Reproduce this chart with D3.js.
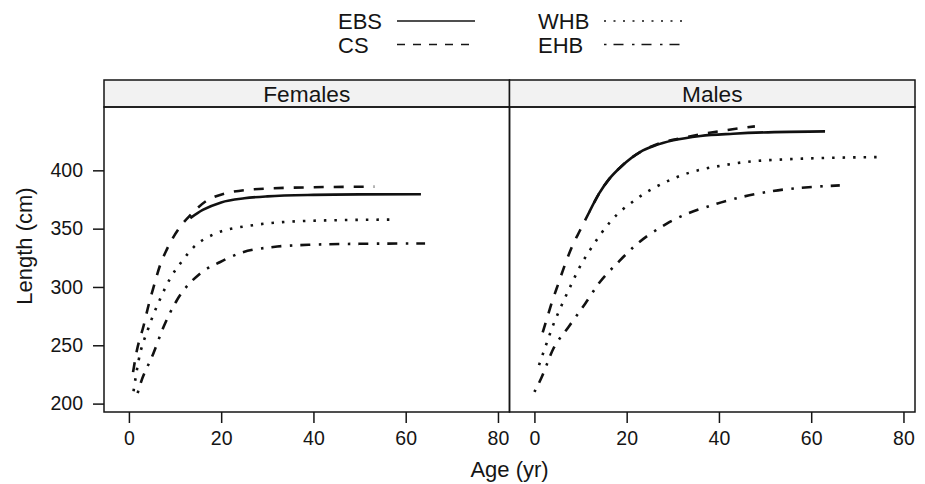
<!DOCTYPE html>
<html>
<head>
<meta charset="utf-8">
<script src="https://cdn.jsdelivr.net/npm/d3@7"></script>
<style>
    body { margin: 0; background: #fff; }
    text { font-family: "Liberation Sans", Arial, Helvetica, sans-serif; fill: #151515; }
</style>
</head>
<body>
<div id="scene"></div>
<script>
// stocks, sexes and ticks
const stocks = ['EBS', 'CS', 'WHB', 'EHB'];
const sexes = ['Females', 'Males'];
const xTicks = [0, 20, 40, 60, 80];
const yTicks = [200, 250, 300, 350, 400];

// females (age in yr, length in cm)
const femaleEbsAge = [13.3, 16, 20, 25, 30, 40, 50, 63.3];
const femaleEbsLength = [359, 366, 372.5, 376, 377.7, 379, 379.4, 379.5];
const femaleCsAge = [0.9, 1.7, 3.2, 4.3, 5.5, 6.7, 8.2, 11.1, 13.3, 18.3, 27, 40, 53.2];
const femaleCsLength = [227, 245, 267, 285, 302, 318, 332, 351.5, 361.5, 377, 383.7, 385.5, 386];
const femaleWhbAge = [1.0, 2.1, 4.25, 6.8, 8.9, 11.5, 14, 18.3, 27, 40, 57.5];
const femaleWhbLength = [210.6, 237, 265, 290, 307, 322, 334, 345, 353, 356.8, 357.8];
const femaleEhbAge = [1.9, 2.4, 5.3, 7.5, 10.4, 15.4, 19.8, 24.1, 31.3, 40, 50, 64.2];
const femaleEhbLength = [209, 215.7, 243, 265.7, 288.6, 311.4, 321.4, 329, 334.3, 336.3, 337, 337.3];

// males
const maleEbsAge = [11.9, 14, 16.4, 19, 22.9, 26, 30.1, 36, 43.1, 52, 63];
const maleEbsLength = [364.3, 380, 393.5, 404, 415.7, 421, 425.7, 429.5, 431.4, 432.8, 433.4];
const maleCsAge = [1.8, 2.8, 3.8, 5.2, 6.7, 8.2, 9.9, 11.9, 14, 16.4, 19, 22.9, 27, 33, 40, 47.8];
const maleCsLength = [261, 274, 287, 303, 320, 335, 348.6, 364.3, 380, 393.5, 404, 415.7, 423, 428.5, 433.5, 437.7];
const maleWhbAge = [1.0, 2.5, 4.1, 5.9, 7.9, 9.9, 12.1, 16.4, 22.2, 30.1, 43.1, 55, 75.6];
const maleWhbLength = [233, 250, 267.7, 284.3, 301.4, 317.7, 332, 355.7, 375.7, 392.9, 405.7, 409.5, 411.4];
const maleEhbAge = [0, 1.45, 4.1, 7.4, 11, 14.2, 18.2, 21.5, 28.7, 39.5, 50.4, 66.2];
const maleEhbLength = [210, 221.5, 247, 265.7, 285.7, 304.3, 321.4, 334.3, 354.3, 371.4, 381.4, 387.1];

const seriesBySex = {
    'Females': [
        { stock: 'EBS', age: femaleEbsAge, length: femaleEbsLength },
        { stock: 'CS', age: femaleCsAge, length: femaleCsLength },
        { stock: 'WHB', age: femaleWhbAge, length: femaleWhbLength },
        { stock: 'EHB', age: femaleEhbAge, length: femaleEhbLength },
    ],
    'Males': [
        { stock: 'EBS', age: maleEbsAge, length: maleEbsLength },
        { stock: 'CS', age: maleCsAge, length: maleCsLength },
        { stock: 'WHB', age: maleWhbAge, length: maleWhbLength },
        { stock: 'EHB', age: maleEhbAge, length: maleEhbLength },
    ],
};

const dashes = { 'EBS': null, 'CS': '10,10', 'WHB': '2.5,8', 'EHB': '2.5,8,10,8.5' };
const legendDashes = { 'EBS': null, 'CS': '8,8', 'WHB': '2,7.5', 'EHB': '2.5,7,10,8.5' };

const width = 925;
const height = 484;
const panelTop = 107;
const panelBottom = 412;
const panelLeft = 104;
const panelWidth = 405.5;
const stripTop = 80;
const ink = '#151515';

const svg = d3.select('#scene')
    .append('svg')
    .attr('width', width)
    .attr('height', height);

const yScale = d3.scaleLinear().domain([192.8, 454.3]).range([panelBottom, panelTop]);

// legend
const legendCols = [338, 538];
const legendRows = [21, 44.5];
stocks.forEach((stock, i) => {
    const col = Math.floor(i / 2);
    const row = i % 2;
    const tx = legendCols[col];
    const ty = legendRows[row];
    const lx1 = col === 0 ? 397 : 604;
    svg.append('text')
        .attr('x', tx)
        .attr('y', ty + 8)
        .style('font-size', '22px')
        .text(stock);
    svg.append('line')
        .attr('x1', lx1)
        .attr('x2', lx1 + 78)
        .attr('y1', ty)
        .attr('y2', ty)
        .attr('stroke', ink)
        .attr('stroke-width', 1.7)
        .attr('stroke-dasharray', legendDashes[stock]);
});

const line = d3.line()
    .x((d) => d.x)
    .y((d) => d.y)
    .curve(d3.curveMonotoneX);

sexes.forEach((sex, p) => {
    const x0 = panelLeft + p * panelWidth;
    const xScale = d3.scaleLinear().domain([-5.4, 82.5]).range([x0, x0 + panelWidth]);

    // strip
    svg.append('rect')
        .attr('x', x0)
        .attr('y', stripTop)
        .attr('width', panelWidth)
        .attr('height', panelTop - stripTop)
        .attr('fill', '#f2f2f2')
        .attr('stroke', ink)
        .attr('stroke-width', 1.5);
    svg.append('text')
        .attr('x', x0 + panelWidth / 2)
        .attr('y', panelTop - 5.5)
        .attr('text-anchor', 'middle')
        .style('font-size', '22.7px')
        .text(sex);

    // curves
    seriesBySex[sex].forEach((s) => {
        const pts = s.age.map((a, k) => ({ x: xScale(a), y: yScale(s.length[k]) }));
        svg.append('path')
            .datum(pts)
            .attr('d', line)
            .attr('fill', 'none')
            .attr('stroke', '#111')
            .attr('stroke-width', 2.6)
            .attr('stroke-dasharray', dashes[s.stock]);
    });

    // panel box
    svg.append('rect')
        .attr('x', x0)
        .attr('y', panelTop)
        .attr('width', panelWidth)
        .attr('height', panelBottom - panelTop)
        .attr('fill', 'none')
        .attr('stroke', ink)
        .attr('stroke-width', 1.5);

    // x axis
    const xAxis = svg.append('g')
        .attr('transform', `translate(0,${panelBottom})`)
        .call(d3.axisBottom(xScale).tickValues(xTicks).tickSize(11).tickPadding(8));
    xAxis.select('.domain').remove();
    xAxis.selectAll('line').attr('stroke', ink).attr('stroke-width', 1.5);
    xAxis.selectAll('text').style('font-size', '19.5px').attr('fill', ink)
        .style('font-family', '"Liberation Sans", Arial, sans-serif');

    if (p === 0) {
        const yAxis = svg.append('g')
            .attr('transform', `translate(${x0},0)`)
            .call(d3.axisLeft(yScale).tickValues(yTicks).tickSize(11).tickPadding(10));
        yAxis.select('.domain').remove();
        yAxis.selectAll('line').attr('stroke', ink).attr('stroke-width', 1.5);
        yAxis.selectAll('text').style('font-size', '19.5px').attr('fill', ink)
            .style('font-family', '"Liberation Sans", Arial, sans-serif');
    }
});

// axis titles
svg.append('text')
    .attr('x', panelLeft + panelWidth)
    .attr('y', 477)
    .attr('text-anchor', 'middle')
    .style('font-size', '22px')
    .text('Age (yr)');

svg.append('text')
    .attr('transform', `translate(32,${(stripTop + panelBottom) / 2}) rotate(-90)`)
    .attr('text-anchor', 'middle')
    .style('font-size', '22px')
    .text('Length (cm)');
</script>
</body>
</html>
